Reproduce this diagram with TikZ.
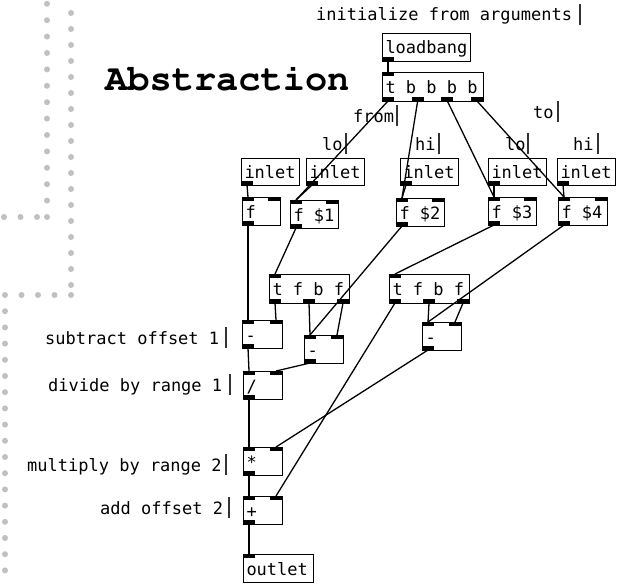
\documentclass[tikz,border=0pt]{standalone}
\usepackage[T1,TU]{fontenc}
\usepackage{fontspec}
\usepackage{tikz}
\usetikzlibrary{positioning}
\newfontfamily\pdschrift{DejaVu Sans Mono}
\newcommand{\titelschrift}{\fontencoding{T1}\fontfamily{pcr}\fontseries{b}\fontshape{n}\fontsize{37}{38}\selectfont}
\definecolor{punktgrau}{RGB}{192,192,192}
\tikzstyle{pdbox} = [draw=black, line width=1pt, inner xsep=3pt, inner ysep=0pt,
 text height=16pt, text depth=3pt, anchor=north west,
 font=\pdschrift\fontsize{17}{19}\selectfont]
\tikzstyle{kommentar} = [inner sep=0pt, anchor=base west, font=\pdschrift\fontsize{17}{19}\selectfont]
\tikzstyle{titel} = [inner sep=0pt, anchor=base west, font=\titelschrift]
\tikzstyle{kabel} = [line width=1.3pt]
\tikzstyle{port} = [fill=black]
\tikzstyle{cursor} = [line width=1.5pt, black!80]
\tikzstyle{punkt} = [fill=punktgrau]

% Objektbox: Name, x, y, Breite, Hoehe, Text, Inlets, Outlets
\newcommand{\pdobj}[8]{%
  \pgfmathsetmacro\tw{#4-6}
  \node[pdbox, minimum width=#4pt, minimum height=#5pt] (#1) at (#2,#3) {\makebox[\tw pt][l]{#6}};
  \ifnum#7>0
    \foreach \k in {1,...,#7}{
      \pgfmathsetmacro\px{#2+(\k-1)*(#4-12)/max(#7-1,1)}
      \fill[port] (\px,#3) rectangle ++(12,4);
      \coordinate (#1-i\k) at (\px+6,#3);
    }
  \fi
  \ifnum#8>0
    \foreach \k in {1,...,#8}{
      \pgfmathsetmacro\px{#2+(\k-1)*(#4-12)/max(#8-1,1)}
      \fill[port] (\px,#3+#5-4) rectangle ++(12,4);
      \coordinate (#1-o\k) at (\px+6,#3+#5);
    }
  \fi
}
% Kommentar: Name, x, Grundlinie, Text, Cursor-x
\newcommand{\pdkommentar}[5]{%
  \node[kommentar] (#1) at (#2,#3) {#4};
  \draw[cursor] (#5,#3+4) -- (#5,#3-17);
}

\begin{document}
\begin{tikzpicture}[x=1pt, y=-1pt]
	\useasboundingbox (0,0) rectangle (617,583);
	% Punktlinien links
	\foreach \i in {0,...,13} \fill[punkt] (47,217-16.4*\i) circle (3pt);
	\foreach \xx in {4,20.5,37} \fill[punkt] (\xx,217) circle (3pt);
	\foreach \i in {0,...,17} \fill[punkt] (71,13+16*\i) circle (3pt);
	\foreach \xx in {5,21.5,38,54.5,71} \fill[punkt] (\xx,295) circle (3pt);
	\foreach \i in {1,...,17} \fill[punkt] (5,295+16.2*\i) circle (3pt);
	% Titel
	\node[titel] (titel) at (105,91) {Abstraction};
	% Kommentare
	\pdkommentar{k1}{316}{21}{initialize from arguments}{580}
	\pdkommentar{k2}{353}{122}{from}{397}
	\pdkommentar{k3}{533}{118}{to}{558}
	\pdkommentar{k4}{322}{150}{lo}{346}
	\pdkommentar{k5}{415}{150}{hi}{439}
	\pdkommentar{k6}{505}{150}{lo}{528}
	\pdkommentar{k7}{573}{150}{hi}{598}
	\pdkommentar{k8}{45}{344}{subtract offset 1}{226}
	\pdkommentar{k9}{48}{391}{divide by range 1}{230}
	\pdkommentar{k10}{27}{471}{multiply by range 2}{226}
	\pdkommentar{k11}{100}{514}{add offset 2}{229}
	% Objekte
	\pdobj{lb}{382}{33}{88}{28}{loadbang}{0}{1}
	\pdobj{tb}{382}{72}{101}{29}{t b b b b}{1}{4}
	\pdobj{in1}{241}{158}{58}{27}{inlet}{0}{1}
	\pdobj{in2}{306}{158}{58}{27}{inlet}{0}{1}
	\pdobj{in3}{400}{158}{58}{27}{inlet}{0}{1}
	\pdobj{in4}{488}{158}{58}{27}{inlet}{0}{1}
	\pdobj{in5}{557}{158}{58}{27}{inlet}{0}{1}
	\pdobj{f0}{242}{197}{38}{28}{f}{2}{1}
	\pdobj{f1}{290}{200}{48}{28}{f \$1}{2}{1}
	\pdobj{f2}{396}{198}{48}{28}{f \$2}{2}{1}
	\pdobj{f3}{488}{197}{48}{28}{f \$3}{2}{1}
	\pdobj{f4}{558}{197}{49}{28}{f \$4}{2}{1}
	\pdobj{tl}{269}{274}{80}{29}{t f b f}{1}{3}
	\pdobj{tr}{389}{274}{80}{29}{t f b f}{1}{3}
	\pdobj{sub1}{242}{320}{40}{28}{-}{2}{1}
	\pdobj{sub2}{304}{335}{39}{28}{-}{2}{1}
	\pdobj{sub3}{422}{322}{39}{28}{-}{2}{1}
	\pdobj{div}{243}{371}{39}{28}{/}{2}{1}
	\pdobj{mul}{243}{447}{39}{28}{*}{2}{1}
	\pdobj{add}{243}{496}{39}{28}{+}{2}{1}
	\pdobj{out}{243}{554}{70}{28}{outlet}{1}{0}
	% Verbindungen
	\draw[kabel] (lb-o1) -- (tb-i1); % loadbang
	\draw[kabel] (tb-o1) -- (f1-i1);
	\draw[kabel] (tb-o2) -- (f2-i1);
	\draw[kabel] (tb-o3) -- (f3-i1);
	\draw[kabel] (tb-o4) -- (f4-i1);
	\draw[kabel] (in1-o1) -- (f0-i1); % Inlets
	\draw[kabel] (in2-o1) -- (f1-i1);
	\draw[kabel] (in3-o1) -- (f2-i1);
	\draw[kabel] (in4-o1) -- (f3-i1);
	\draw[kabel] (in5-o1) -- (f4-i1);
	\draw[kabel] (f0-o1) -- (sub1-i1); % Wertpfad
	\draw[kabel] (f1-o1) -- (tl-i1);
	\draw[kabel] (f2-o1) -- (sub2-i1);
	\draw[kabel] (f3-o1) -- (tr-i1);
	\draw[kabel] (f4-o1) -- (sub3-i1);
	\draw[kabel] (tl-o1) -- (sub1-i2); % Trigger links
	\draw[kabel] (tl-o2) -- (sub2-i1);
	\draw[kabel] (tl-o3) -- (sub2-i2);
	\draw[kabel] (tr-o1) -- (add-i2); % Trigger rechts
	\draw[kabel] (tr-o2) -- (sub3-i1);
	\draw[kabel] (tr-o3) -- (sub3-i2);
	\draw[kabel] (sub1-o1) -- (div-i1); % Rechnung
	\draw[kabel] (sub2-o1) -- (div-i2);
	\draw[kabel] (sub3-o1) -- (mul-i2);
	\draw[kabel] (div-o1) -- (mul-i1);
	\draw[kabel] (mul-o1) -- (add-i1);
	\draw[kabel] (add-o1) -- (out-i1);
\end{tikzpicture}
\end{document}
